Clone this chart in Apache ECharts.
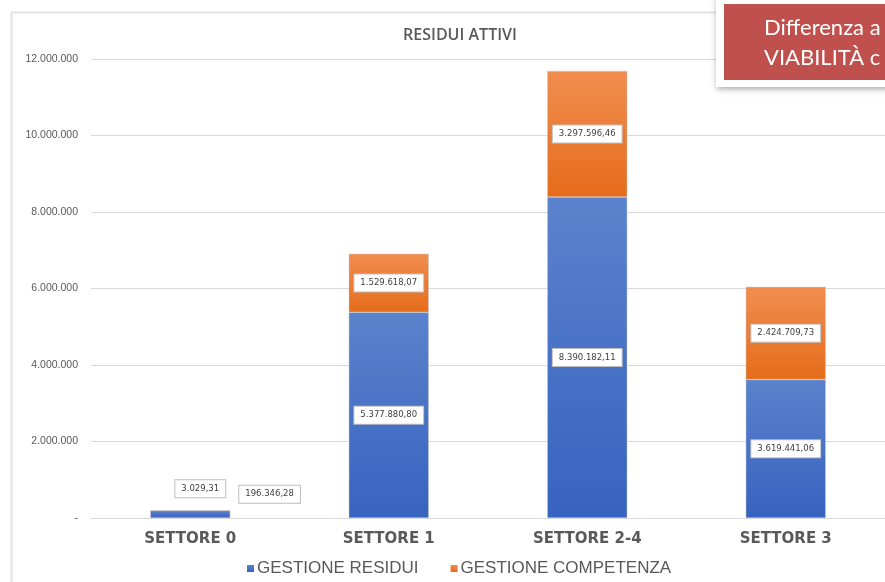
<!DOCTYPE html>
<html lang="it">
<head>
<meta charset="UTF-8">
<title>Residui attivi</title>
<style>
  html, body, #chart { margin: 0; padding: 0; width: 885px; height: 582px; background: #fff; overflow: hidden; }
</style>
</head>
<body>
<div id="chart"></div>
<script src="https://cdn.jsdelivr.net/npm/echarts@6/dist/echarts.min.js"></script>
<script>
  // dati
  const categories = ['SETTORE 0', 'SETTORE 1', 'SETTORE 2-4', 'SETTORE 3'];
  const residui = [196346.28, 5377880.80, 8390182.11, 3619441.06];
  const competenza = [3029.31, 1529618.07, 3297596.46, 2424709.73];
  const seriesNames = ['GESTIONE RESIDUI', 'GESTIONE COMPETENZA'];
  const yTicks = { min: 0, max: 12000000, interval: 2000000 };

  function itNum(v, dec) {
    const parts = v.toFixed(dec).split('.');
    const int = parts[0].replace(/\B(?=(\d{3})+(?!\d))/g, '.');
    return dec ? int + ',' + parts[1] : int;
  }

  const labelBox = {
    show: true,
    position: 'inside',
    formatter: p => itNum(p.value, 2),
    fontFamily: 'DejaVu Sans',
    fontSize: 8.5,
    color: '#404040',
    backgroundColor: '#fff',
    borderColor: '#bfbfbf',
    borderWidth: 1,
    padding: [4, 6]
  };

  function grad(top, bottom) {
    return new echarts.graphic.LinearGradient(0, 0, 0, 1, [
      { offset: 0, color: top }, { offset: 1, color: bottom }
    ]);
  }

  const chart = echarts.init(document.getElementById('chart'));
  chart.setOption({
    animation: false,
    title: {
      text: 'RESIDUI ATTIVI', left: 455, top: 22, textAlign: 'center',
      textStyle: { fontFamily: 'Open Sans', fontSize: 16, fontWeight: 600, color: '#595959' }
    },
    legend: {
      top: 555, left: 242, itemWidth: 7, itemHeight: 7, itemGap: 32,
      icon: 'rect',
      itemStyle: { borderWidth: 0 },
      textStyle: { fontFamily: 'Liberation Sans', fontSize: 17, color: '#595959', padding: [0, 0, 0, -2] },
      data: seriesNames
    },
    grid: { left: 91, right: 0, top: 59, bottom: 64 },
    xAxis: {
      type: 'category', data: categories,
      axisLine: { lineStyle: { color: '#d9d9d9' } },
      axisTick: { show: false },
      axisLabel: { fontFamily: 'DejaVu Sans', fontSize: 15, fontWeight: 'bold', color: '#595959', margin: 14 }
    },
    yAxis: {
      type: 'value', min: yTicks.min, max: yTicks.max, interval: yTicks.interval,
      axisLine: { show: false }, axisTick: { show: false },
      splitLine: { lineStyle: { color: '#d9d9d9' } },
      axisLabel: {
        fontFamily: 'Liberation Sans', fontSize: 10.5, color: '#595959', margin: 13,
        formatter: v => v === 0 ? '-' : itNum(v, 0)
      }
    },
    series: [
      {
        name: seriesNames[0], type: 'bar', stack: 'tot', barWidth: 80,
        itemStyle: { color: grad('#5b82cc', '#3763c0'), borderColor: '#c8c8c8', borderWidth: 0.5 },
        label: labelBox,
        data: residui.map((v, i) => i === 0
          ? { value: v, label: { position: 'right', offset: [4, -20] } }
          : v)
      },
      {
        name: seriesNames[1], type: 'bar', stack: 'tot', barWidth: 80,
        itemStyle: { color: grad('#f18d50', '#e56c1b'), borderColor: '#c8c8c8', borderWidth: 0.5 },
        label: labelBox,
        data: competenza.map((v, i) => i === 0
          ? { value: v, label: { position: 'top', offset: [10, -8] } }
          : v)
      }
    ],
    graphic: [
      { type: 'rect', left: 9, top: 10, z: -10, shape: { width: 900, height: 600 },
        style: { fill: 'none', stroke: '#e3e3e3', lineWidth: 2 } },
      { type: 'rect', left: 716, top: -4, z: 100,
        shape: { width: 200, height: 91 },
        style: { fill: '#fff',
          shadowBlur: 6, shadowOffsetX: 1, shadowOffsetY: 2, shadowColor: 'rgba(0,0,0,0.35)' } },
      { type: 'rect', left: 724, top: 4, z: 101,
        shape: { width: 200, height: 76 },
        style: { fill: '#c0504d' } },
      { type: 'text', left: 764, top: 13, z: 102,
        style: { text: 'Differenza a\nVIABILITÀ c', fill: '#fff', font: '22px Lato', lineHeight: 30 } }
    ]
  });
</script>
</body>
</html>
